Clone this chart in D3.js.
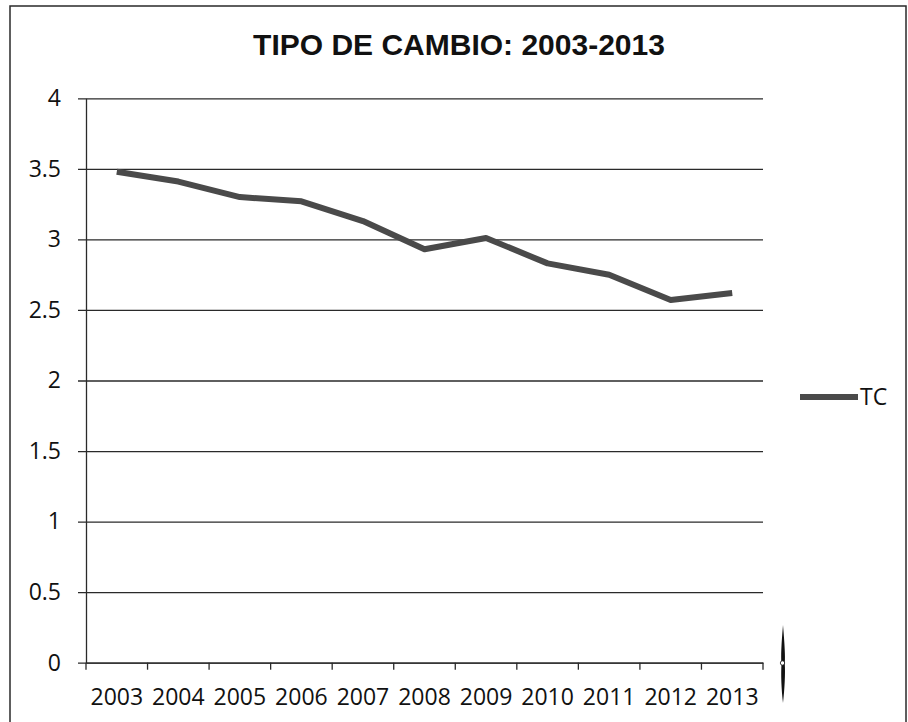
<!DOCTYPE html>
<html>
<head>
<meta charset="utf-8">
<script src="https://cdn.jsdelivr.net/npm/d3@7"></script>
<style>
  html, body { margin: 0; padding: 0; background: #fff; }
  svg { display: block; }
</style>
</head>
<body>
<svg id="chart" width="908" height="722"></svg>
<script>
// Tipo de cambio anual (soles por dólar)
const years = ["2003","2004","2005","2006","2007","2008","2009","2010","2011","2012","2013"];
const tcValues = [3.48, 3.41, 3.30, 3.27, 3.13, 2.93, 3.01, 2.83, 2.75, 2.57, 2.62];
const yTicks = [0, 0.5, 1, 1.5, 2, 2.5, 3, 3.5, 4];
const seriesName = "TC";
const title = "TIPO DE CAMBIO: 2003-2013";

const svg = d3.select("#chart");
const ink = "#2a2a2a";
const lineColor = "#4a4a4a";
const labelFont = "'Open Sans', sans-serif";
const labelSize = 23;

// Frame around the whole chart
svg.append("rect")
  .attr("x", 10).attr("y", 6)
  .attr("width", 896).attr("height", 730)
  .attr("fill", "none").attr("stroke", ink).attr("stroke-width", 1.5);

// Plot area
const plot = { left: 86, right: 763, top: 98.3, bottom: 662.7 };

const x = d3.scaleBand().domain(years).range([plot.left, plot.right]).padding(0);
const y = d3.scaleLinear().domain([0, 4]).range([plot.bottom, plot.top]);

// Title
svg.append("text")
  .attr("x", 459).attr("y", 55)
  .attr("text-anchor", "middle")
  .attr("font-family", "'Liberation Sans', Arial, sans-serif")
  .attr("font-weight", "bold")
  .attr("font-size", 30)
  .attr("fill", "#111")
  .text(title);

// Y axis with horizontal gridlines
const yAxis = d3.axisLeft(y)
  .tickValues(yTicks)
  .tickFormat(d => String(d))
  .tickSizeInner(-(plot.right - plot.left))
  .tickSizeOuter(0)
  .tickPadding(25);

const gy = svg.append("g")
  .attr("transform", `translate(${plot.left},0)`)
  .call(yAxis);
gy.select(".domain").attr("stroke", ink).attr("stroke-width", 1.3);
gy.selectAll(".tick line")
  .attr("x1", -8)
  .attr("stroke", ink).attr("stroke-width", 1.3);
gy.selectAll(".tick text")
  .attr("font-family", labelFont)
  .attr("font-size", labelSize)
  .attr("fill", "#111");

// X axis: category labels, ticks on category boundaries
const xAxis = d3.axisBottom(x).tickSize(0).tickPadding(26);
const gx = svg.append("g")
  .attr("transform", `translate(0,${plot.bottom})`)
  .call(xAxis);
gx.select(".domain").attr("stroke", ink).attr("stroke-width", 1.3);
gx.selectAll(".tick text")
  .attr("font-family", labelFont)
  .attr("font-size", labelSize)
  .attr("fill", "#111");

const boundaries = years.map(d => x(d)).concat([x.range()[1]]);
gx.selectAll("line.boundary")
  .data(boundaries)
  .join("line")
  .attr("class", "boundary")
  .attr("x1", d => d).attr("x2", d => d)
  .attr("y1", 0).attr("y2", 7)
  .attr("stroke", ink).attr("stroke-width", 1.3);

// Series line
const line = d3.line()
  .x((d, i) => x(years[i]) + x.bandwidth() / 2)
  .y(d => y(d));

svg.append("path")
  .datum(tcValues)
  .attr("d", line)
  .attr("fill", "none")
  .attr("stroke", lineColor)
  .attr("stroke-width", 6)
  .attr("stroke-linejoin", "round")
  .attr("stroke-linecap", "butt");

// Legend
const legend = svg.append("g").attr("transform", "translate(800,397)");
legend.append("line")
  .attr("x1", 0).attr("x2", 58).attr("y1", 0).attr("y2", 0)
  .attr("stroke", lineColor).attr("stroke-width", 6);
legend.append("text")
  .attr("x", 60).attr("y", 0).attr("dy", "0.36em")
  .attr("font-family", labelFont)
  .attr("font-size", labelSize)
  .attr("fill", "#111")
  .text(seriesName);

// Small clip mark on the right edge of the sheet
const clip = svg.append("g").attr("transform", "translate(783,664)");
clip.append("path")
  .attr("d", "M0,-39 C1.6,-20 2.4,-8 1.8,0 C2.4,10 1.6,25 0,39 C-1.6,25 -2.2,10 -1.5,0 C-2.2,-8 -1.6,-20 0,-39 Z")
  .attr("fill", "#111");
clip.append("circle")
  .attr("cx", -0.5).attr("cy", -1).attr("r", 2.2)
  .attr("fill", "#fff").attr("stroke", "#111").attr("stroke-width", 0.8);
</script>
</body>
</html>
